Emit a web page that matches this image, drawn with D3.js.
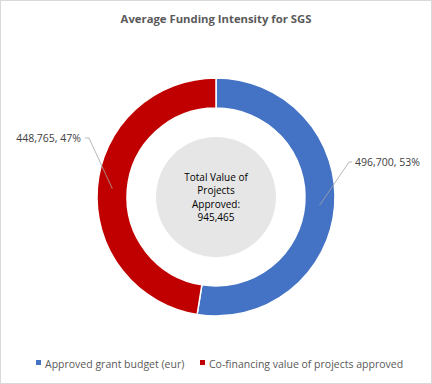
<!DOCTYPE html>
<html lang="en">
<head>
<meta charset="UTF-8">
<title>Average Funding Intensity for SGS</title>
<script src="https://d3js.org/d3.v7.min.js"></script>
<style>
    body { margin: 0; background: #fff; }
    svg { display: block; font-family: "Open Sans", "DejaVu Sans", sans-serif; }
    .title { font-size: 11.3px; font-weight: bold; fill: #595959; }
    .label { font-size: 10.5px; fill: #404040; }
    .legend text { font-size: 10.5px; fill: #595959; }
    .center-text { font-size: 10px; fill: #000; }
</style>
</head>
<body>
<script>
    // Data
    const categories = ["Approved grant budget (eur)", "Co-financing value of projects approved"];
    const values = [496700, 448765];
    const colors = ["#4472c4", "#c00000"];
    const centerLines = ["Total Value of", "Projects", "Approved:", "945,465"];

    const width = 432, height = 384;
    const cx = 216, cy = 197;
    const outerR = 119, innerR = 89;

    const svg = d3.select("body").append("svg")
        .attr("width", width)
        .attr("height", height);

    // chart border
    svg.append("rect")
        .attr("x", 0.5).attr("y", 0.5)
        .attr("width", width - 1).attr("height", height - 1)
        .attr("fill", "#fff")
        .attr("stroke", "#d9d9d9");

    svg.append("text")
        .attr("class", "title")
        .attr("x", width / 2)
        .attr("y", 23)
        .attr("text-anchor", "middle")
        .text("Average Funding Intensity for SGS");

    const total = d3.sum(values);
    const fmt = d3.format(",");

    const pie = d3.pie().sort(null).value(d => d);
    const arcs = pie(values);
    const arc = d3.arc().innerRadius(innerR).outerRadius(outerR);

    const g = svg.append("g").attr("transform", `translate(${cx},${cy})`);

    g.selectAll("path")
        .data(arcs)
        .enter()
        .append("path")
        .attr("d", arc)
        .attr("fill", (d, i) => colors[i])
        .attr("stroke", "#fff")
        .attr("stroke-width", 1.5);

    // grey centre disc with total
    g.append("circle")
        .attr("r", 60)
        .attr("fill", "#e6e6e6");

    g.append("text")
        .attr("class", "center-text")
        .attr("text-anchor", "middle")
        .selectAll("tspan")
        .data(centerLines)
        .enter()
        .append("tspan")
        .attr("x", 0)
        .attr("y", (d, i) => -16 + i * 13.4)
        .text(d => d);

    // data labels with leader lines
    const labelPos = [
        { knee: [136, -35], side: "start" },
        { knee: [-131, -59], side: "end" }
    ];
    const mid = d3.arc().innerRadius((innerR + outerR) / 2).outerRadius((innerR + outerR) / 2);

    arcs.forEach((d, i) => {
        const p = mid.centroid(d);
        const knee = labelPos[i].knee;
        const elbow = i === 0 ? [knee[0] - 3, knee[1]] : [knee[0] + 4, knee[1]];
        g.append("polyline")
            .attr("points", [p, elbow, knee].map(q => q.join(",")).join(" "))
            .attr("fill", "none")
            .attr("stroke", "#a6a6a6")
            .attr("stroke-width", 0.8);
        g.append("text")
            .attr("class", "label")
            .attr("x", i === 0 ? knee[0] + 3 : knee[0] - 4)
            .attr("y", knee[1] + 4)
            .attr("text-anchor", labelPos[i].side)
            .text(`${fmt(d.data)}, ${Math.round(d.data / total * 100)}%`);
    });

    // legend
    const legend = svg.append("g").attr("class", "legend");
    const legendX = [36, 200];
    categories.forEach((c, i) => {
        const lg = legend.append("g").attr("transform", `translate(${legendX[i]},364)`);
        lg.append("rect")
            .attr("x", 0).attr("y", -4)
            .attr("width", 5).attr("height", 5)
            .attr("fill", colors[i]);
        lg.append("text")
            .attr("x", 9)
            .attr("y", 4)
            .text(c);
    });
</script>
</body>
</html>
